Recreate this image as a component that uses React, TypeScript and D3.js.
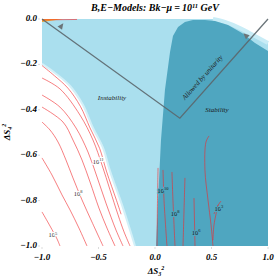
import React from "react";
import * as d3 from "d3";

type Pt = [number, number];

const xTicks = [-1, -0.5, 0, 0.5, 1];
const yTicks = [0, -0.2, -0.4, -0.6, -0.8, -1];

// edge between the instability region and the white corner (ΔS3², ΔS4²)
const instabilityEdge: Pt[] = [
  [-1, -0.198], [-0.885, -0.238], [-0.752, -0.295], [-0.637, -0.379],
  [-0.549, -0.48], [-0.46, -0.568], [-0.398, -0.67], [-0.292, -0.819], [-0.177, -1],
];
// white corner at the top right
const topRightEdge: Pt[] = [
  [0.513, 0], [0.619, -0.013], [0.752, -0.04], [0.885, -0.075], [1, -0.106],
];
// left / top edge of the stability region
const stabilityEdge: Pt[] = [
  [0.009, -1], [0.027, -0.797], [0.053, -0.533], [0.088, -0.313], [0.133, -0.145],
  [0.159, -0.075], [0.204, -0.035], [0.265, -0.013], [0.336, -0.004], [0.442, -0.004],
  [0.531, -0.009], [0.646, -0.026], [0.77, -0.062], [0.885, -0.106], [1, -0.141],
];
const unitarityV: Pt[] = [[-1, 0], [0.22, -0.437], [1, 0]];
const arrowAt = [-0.858, 0.841];

const leftContours: Pt[][] = [
  [[-1, -0.205], [-0.89, -0.25], [-0.77, -0.305], [-0.66, -0.385], [-0.575, -0.48], [-0.49, -0.57], [-0.43, -0.67], [-0.34, -0.8], [-0.3, -0.86]],
  [[-1, -0.26], [-0.841, -0.308], [-0.664, -0.423], [-0.549, -0.533], [-0.469, -0.643], [-0.398, -0.753], [-0.327, -0.863], [-0.274, -0.938], [-0.221, -1]],
  [[-1, -0.335], [-0.841, -0.388], [-0.699, -0.48], [-0.593, -0.586], [-0.513, -0.696], [-0.434, -0.811], [-0.345, -0.93], [-0.283, -1]],
  [[-1, -0.388], [-0.814, -0.454], [-0.726, -0.533], [-0.646, -0.621], [-0.575, -0.718], [-0.496, -0.833], [-0.425, -0.921], [-0.354, -1]],
  [[-1, -0.454], [-0.929, -0.489], [-0.858, -0.542], [-0.788, -0.621], [-0.726, -0.7], [-0.646, -0.797], [-0.558, -0.894], [-0.46, -1]],
  [[-1, -0.612], [-0.912, -0.687], [-0.823, -0.775], [-0.752, -0.841], [-0.673, -0.921], [-0.602, -1]],
  [[-1, -0.85], [-0.929, -0.912], [-0.867, -0.969], [-0.841, -1]],
  [[-1, -0.004], [-0.69, -0.002]],
];
const rightContours: Pt[][] = [
  [[0.027, -0.656], [0.022, -0.8], [0.018, -1]],
  [[0.071, -0.665], [0.08, -0.8], [0.106, -1]],
  [[0.15, -0.674], [0.159, -0.8], [0.177, -1]],
  [[0.265, -0.7], [0.257, -0.84], [0.248, -1]],
  [[0.345, -0.789], [0.354, -1]],
  [[0.478, -0.515], [0.451, -0.542], [0.442, -0.665], [0.469, -0.797], [0.496, -0.907], [0.513, -1]],
  [[0.558, -0.819], [0.522, -0.907], [0.513, -0.974]],
  [[0.522, -0.859], [0.549, -0.828], [0.584, -0.802]],
];
const orangeStreak: Pt[] = [[-1, 0], [-0.814, 0], [-1, -0.013]];

const leftLabels = [
  { x: -0.504, y: -0.634, exp: "11" },
  { x: -0.681, y: -0.775, exp: "8" },
  { x: -0.903, y: -0.956, exp: "5" },
];
const rightLabels = [
  { x: 0.071, y: -0.758, exp: "10" },
  { x: 0.177, y: -0.863, exp: "8" },
  { x: 0.363, y: -0.943, exp: "6" },
  { x: 0.566, y: -0.841, exp: "3" },
];

const W = 275;
const H = 278;
const serif = "'Liberation Serif', 'DejaVu Serif', serif";

export default function App() {
  const x = d3.scaleLinear().domain([-1, 1]).range([42, 268]);
  const y = d3.scaleLinear().domain([-1, 0]).range([246, 19]);

  const line = d3.line<Pt>().x((d) => x(d[0])).y((d) => y(d[1]));
  const smooth = d3.line<Pt>().x((d) => x(d[0])).y((d) => y(d[1])).curve(d3.curveCatmullRom);

  const lightPoly: Pt[] = [
    [-1, 0], ...topRightEdge, [1, -1],
    ...instabilityEdge.slice().reverse(),
  ];
  const darkPoly: Pt[] = [...stabilityEdge, [1, -1]];

  // arrows pointing away from the V, toward the allowed side
  const vx = x(unitarityV[1][0]);
  const vy = y(unitarityV[1][1]);
  const arrows = arrowAt.map((ax) => {
    const end = ax < unitarityV[1][0] ? unitarityV[0] : unitarityV[2];
    const ex = x(end[0]);
    const ey = y(end[1]);
    const px = x(ax);
    const py = vy + ((px - vx) / (ex - vx)) * (ey - vy);
    let dx = ex - vx;
    let dy = ey - vy;
    const len = Math.hypot(dx, dy);
    dx /= len;
    dy /= len;
    let nx = -dy;
    let ny = dx;
    if (ny > 0) {
      nx = -nx;
      ny = -ny;
    }
    const tipX = px + nx * 9;
    const tipY = py + ny * 9;
    const bx = px + nx * 3;
    const by = py + ny * 3;
    const pts = [
      [tipX, tipY],
      [bx + dx * 2.8, by + dy * 2.8],
      [bx - dx * 2.8, by - dy * 2.8],
    ];
    return pts.map((p) => p.join(",")).join(" ");
  });

  const slope =
    (Math.atan2(y(unitarityV[2][1]) - vy, x(unitarityV[2][0]) - vx) * 180) / Math.PI;

  return (
    <svg
      width={W}
      height={H}
      style={{ position: "absolute", left: 0, top: 0, background: "#fff" }}
      fontFamily={serif}
    >
      <path d={line(lightPoly) + "Z"} fill="#aadfee" />
      <path d={smooth(instabilityEdge) ?? ""} fill="none" stroke="#d2f0f8" strokeWidth={2} />
      <path d={smooth(topRightEdge) ?? ""} fill="none" stroke="#c8ecf6" strokeWidth={4} />
      <path d={line(darkPoly) + "Z"} fill="#4fa6c0" />
      <path d={line(orangeStreak) + "Z"} fill="#f3a22a" />

      {leftContours.concat(rightContours).map((c, i) => (
        <path key={i} d={smooth(c) ?? ""} fill="none" stroke="#f0262a" strokeWidth={0.7} opacity={0.85} />
      ))}

      {leftLabels.map((l, i) => (
        <text key={"l" + i} x={x(l.x)} y={y(l.y)} fontSize={6.5} textAnchor="middle" dominantBaseline="middle"
          fill="#333" stroke="#fff" strokeWidth={2} paintOrder="stroke">
          10<tspan dy={-2.5} fontSize={4.5}>{l.exp}</tspan>
        </text>
      ))}
      {rightLabels.map((l, i) => (
        <text key={"r" + i} x={x(l.x)} y={y(l.y)} fontSize={6.5} textAnchor="middle" dominantBaseline="middle"
          fill="#1a1a1a" stroke="#4fa6c0" strokeWidth={2} paintOrder="stroke">
          10<tspan dy={-2.5} fontSize={4.5}>{l.exp}</tspan>
        </text>
      ))}

      <path d={line(unitarityV) ?? ""} fill="none" stroke="#5b666b" strokeWidth={1.3} opacity={0.9} />
      {arrows.map((p, i) => (
        <polygon key={i} points={p} fill="#6b7478" />
      ))}

      <text x={112} y={100} fontSize={7} fontStyle="italic" textAnchor="middle" fill="#222">Instability</text>
      <text x={217} y={112} fontSize={7} fontStyle="italic" textAnchor="middle" fill="#1a1a1a">Stability</text>
      <text
        transform={`translate(204,79) rotate(${slope})`}
        fontSize={7}
        fontStyle="italic"
        textAnchor="middle"
        fill="#222"
      >
        Allowed by unitarity
      </text>

      {/* faint frame ticks */}
      {xTicks.map((t) => (
        <line key={"xt" + t} x1={x(t)} x2={x(t)} y1={247} y2={249} stroke="#ccc" strokeWidth={0.7} />
      ))}
      {yTicks.map((t) => (
        <line key={"yt" + t} x1={38} x2={40} y1={y(t)} y2={y(t)} stroke="#ccc" strokeWidth={0.7} />
      ))}

      {xTicks.map((t) => (
        <text key={"xl" + t} x={x(t)} y={260} fontSize={9} fontWeight="bold" fontStyle="italic" textAnchor="middle">
          {d3.format(".1f")(t).replace("-", "\u2212")}
        </text>
      ))}
      {yTicks.map((t) => (
        <text key={"yl" + t} x={37} y={y(t)} fontSize={9} fontWeight="bold" fontStyle="italic" textAnchor="end"
          dominantBaseline="middle">
          {d3.format(".1f")(t).replace("-", "\u2212")}
        </text>
      ))}

      <text x={156} y={274} fontSize={9} fontWeight="bold" fontStyle="italic" textAnchor="middle">
        ΔS<tspan dy={2} fontSize={6}>3</tspan><tspan dy={-6} fontSize={6}>2</tspan>
      </text>
      <text transform="translate(10,132) rotate(-90)" fontSize={9} fontWeight="bold" fontStyle="italic" textAnchor="middle">
        ΔS<tspan dy={2} fontSize={6}>4</tspan><tspan dy={-6} fontSize={6}>2</tspan>
      </text>

      <text x={155} y={11} fontSize={10} fontWeight="bold" fontStyle="italic" textAnchor="middle">
        B,E{"\u2212"}Models: Bk{"\u2212"}μ{"\u2009"}={"\u2009"}10<tspan dy={-3.5} fontSize={6.5}>11</tspan>
        <tspan dy={3.5}> GeV</tspan>
      </text>
    </svg>
  );
}
